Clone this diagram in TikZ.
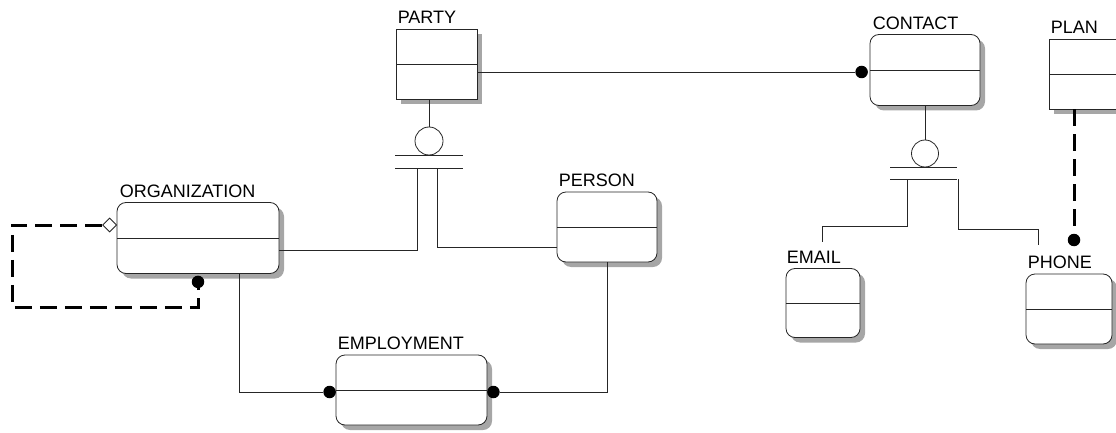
\documentclass[tikz,border=0pt]{standalone}
\usepackage{fontspec}
\setmainfont{Liberation Sans}
\usetikzlibrary{calc,shapes.geometric}
\begin{document}
\begin{tikzpicture}[x=1pt,y=-1pt,
  ln/.style={line width=0.8pt, draw=black!85},
  rel/.style={line width=3pt, draw=black, dash pattern=on 17pt off 8pt},
  ent/.style={draw=black!85, line width=0.8pt, fill=white, inner sep=0pt,
    preaction={fill=black!35, transform canvas={shift={(5pt,-5pt)}}},
    path picture={\draw[line width=0.8pt, black!85] (path picture bounding box.west) -- (path picture bounding box.east);}},
  rent/.style={ent, rounded corners=9pt},
  lbl/.style={anchor=base west, inner sep=0pt, font=\fontsize{18}{18}\selectfont},
  dot/.style={circle, fill=black, inner sep=0pt, minimum size=12.5pt},
  ring/.style={circle, draw=black!85, line width=0.8pt, fill=white, inner sep=0pt, minimum size=28pt},
  dia/.style={diamond, draw=black!85, line width=0.8pt, fill=white, inner sep=0pt, minimum size=14pt}]
\useasboundingbox (0,0) rectangle (1116,433);
% entities
\node[ent,  minimum width=81pt,  minimum height=70pt] (party)   at (436.5,64) {};
\node[rent, minimum width=110pt, minimum height=71pt] (contact) at (925,70) {};
\node[ent,  minimum width=68pt,  minimum height=70pt] (plan)    at (1083,74) {};
\node[rent, minimum width=162pt, minimum height=71pt] (org)     at (198,238) {};
\node[rent, minimum width=100pt, minimum height=70pt] (person)  at (607,227) {};
\node[rent, minimum width=151pt, minimum height=70pt] (emp)     at (411.5,390) {};
\node[rent, minimum width=74pt,  minimum height=69pt] (email)   at (823,303) {};
\node[rent, minimum width=86pt,  minimum height=70pt] (phone)   at (1069,309) {};
% labels
\node[lbl] (partyl)   at ($(party.north west)+(2,-5)$)   {PARTY};
\node[lbl] (contactl) at ($(contact.north west)+(3,-5)$) {CONTACT};
\node[lbl] (planl)    at ($(plan.north west)+(2,-5)$)    {PLAN};
\node[lbl] (orgl)     at ($(org.north west)+(3,-5)$)     {ORGANIZATION};
\node[lbl] (personl)  at ($(person.north west)+(2,-5)$)  {PERSON};
\node[lbl] (empl)     at ($(emp.north west)+(2,-5)$)     {EMPLOYMENT};
\node[lbl] (emaill)   at ($(email.north west)+(1,-5)$)   {EMAIL};
\node[lbl] (phonel)   at ($(phone.north west)+(2,-5)$)   {PHONE};
% PARTY subtype
\node[ring] (pring) at (429,141) {};
\draw[ln] (party.south -| pring.north) -- (pring.north);
\coordinate (pb1l) at (395,155); \coordinate (pb1r) at (463,155);
\coordinate (pb2l) at (395,168); \coordinate (pb2r) at (463,168);
\draw[ln] (pb1l) -- (pb1r);
\draw[ln] (pb2l) -- (pb2r);
\coordinate (pa) at (417,168); \coordinate (pb) at (437,168);
\draw[ln] (pa) |- ($(org.east)+(0,12)$);
\draw[ln] (pb) |- ($(person.west)+(0,20)$);
% employment
\node[dot] (ecl) at ($(emp.west)+(-6,2)$) {};
\node[dot] (ecr) at ($(emp.east)+(6,2)$) {};
\draw[ln] (person.south) |- (ecr);
\draw[ln] ($(org.south)+(41,0)$) |- (ecl);
% organization self relation
\node[dia] (odia) at ($(org.west)+(-7,-13)$) {};
\node[dot] (odot) at ($(org.south)+(0,8)$) {};
\coordinate (lp) at (12,307);
\draw[rel] (odia.west) -| (lp) -| (odot);
% party - contact
\node[dot] (cdot) at ($(contact.west)+(-8,2)$) {};
\draw[ln] (cdot -| party.east) -- (cdot);
% contact subtype
\node[ring, minimum size=27pt] (cring) at (925,153.5) {};
\draw[ln] (contact.south) -- (cring.north);
\coordinate (cb1l) at (890,167); \coordinate (cb1r) at (957,167);
\coordinate (cb2l) at (890,179); \coordinate (cb2r) at (957,179);
\draw[ln] (cb1l) -- (cb1r);
\draw[ln] (cb2l) -- (cb2r);
\coordinate (ca) at (907,179); \coordinate (cb) at (958,179);
\coordinate (eend) at (822,242); \coordinate (pend) at (1038,245);
\draw[ln] (ca) -- ++(0,47) -| (eend);
\draw[ln] (cb) -- ++(0,50) -| (pend);
% plan - phone
\node[dot] (pdot) at (1074,240) {};
\draw[rel] (plan.south -| pdot) -- (pdot);
\end{tikzpicture}
\end{document}
